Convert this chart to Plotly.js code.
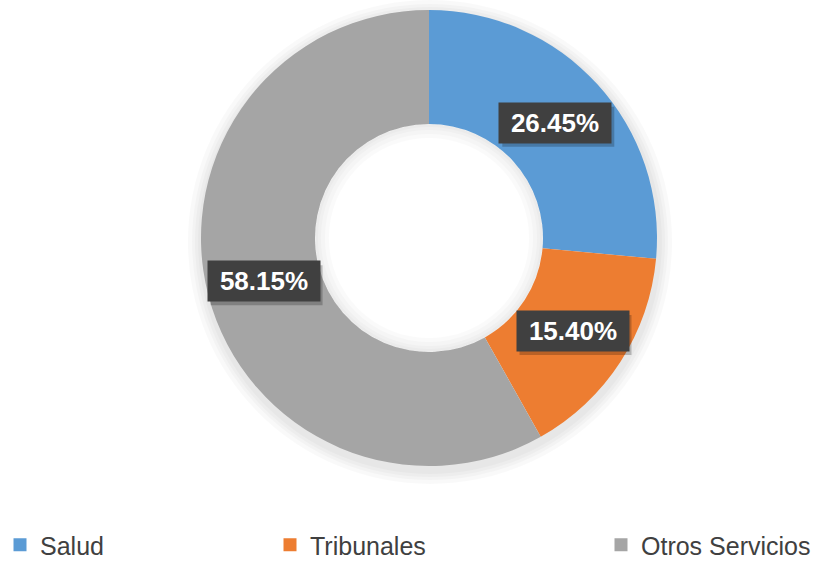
<!DOCTYPE html>
<html>
<head>
<meta charset="utf-8">
<script src="https://cdn.plot.ly/plotly-3.0.1.min.js"></script>
<style>
  html, body { margin: 0; padding: 0; background: #fff; }
  #chart { width: 821px; height: 561px; }
</style>
</head>
<body>
<div id="chart"></div>
<script>
const categories = ["Salud", "Tribunales", "Otros Servicios"];
const shares = [26.45, 15.40, 58.15];
const sliceColors = ["#5B9BD5", "#ED7D31", "#A5A5A5"];

const W = 821, H = 561;
// donut geometry in pixels
const cx = 429, cy = 238, R = 228;
const hole = 0.5;
const rIn = R * hole;
const FONT = "Arial, Liberation Sans, sans-serif";

function domainFor(x, y, r) {
    return {
        x: [(x - r) / W, (x + r) / W],
        y: [(H - y - r) / H, (H - y + r) / H]
    };
}

function ring(x, y, r, h, color, name) {
    return {
        type: "pie",
        labels: [name],
        values: [1],
        hole: h,
        sort: false,
        textinfo: "none",
        hoverinfo: "skip",
        showlegend: false,
        domain: domainFor(x, y, r),
        marker: { colors: [color], line: { width: 0 } }
    };
}

const traces = [];

// soft outer shadow
[14, 10, 7, 4].forEach((d, i) => {
    const r = R + d;
    traces.push(ring(cx + 1, cy + 4, r, (R - 10) / r, "rgba(0,0,0,0.022)", "so" + i));
});

// the donut
traces.push({
    type: "pie",
    labels: categories,
    values: shares,
    hole: hole,
    sort: false,
    direction: "clockwise",
    rotation: 0,
    textinfo: "none",
    hoverinfo: "label+percent",
    showlegend: false,
    domain: domainFor(cx, cy, R),
    marker: { colors: sliceColors, line: { width: 0 } }
});

// soft inner shadow in the hole
[3, 6, 10, 14].forEach((d, i) => {
    traces.push(ring(cx, cy, rIn, (rIn - d) / rIn, "rgba(0,0,0,0.02)", "si" + i));
});

// legend entries, one legend per item so they can be spread like the original
const legendX = [-7, 270, 601];
const legendKeys = ["legend", "legend2", "legend3"];
categories.forEach((c, i) => {
    traces.push({
        type: "scatter",
        mode: "markers",
        x: [null], y: [null],
        name: c,
        legend: legendKeys[i],
        marker: { symbol: "square", size: 13, color: sliceColors[i] },
        hoverinfo: "skip"
    });
});

// label boxes at the middle of each ring segment
const midR = (R + rIn) / 2;
const total = shares.reduce((a, b) => a + b, 0);
const annotations = [];
const shapes = [];
let acc = 0;
shares.forEach(v => {
    const mid = (acc + v / 2) / total * 2 * Math.PI;
    acc += v;
    const px = cx + Math.sin(mid) * midR;
    const py = cy - Math.cos(mid) * midR;
    // box shadow
    shapes.push({
        type: "rect", layer: "above",
        xref: "paper", yref: "paper",
        xsizemode: "pixel", ysizemode: "pixel",
        xanchor: px / W, yanchor: (H - py) / H,
        x0: -53, x1: 59, y0: -24, y1: 16,
        fillcolor: "rgba(0,0,0,0.22)",
        line: { width: 0 }
    });
    annotations.push({
        xref: "paper", yref: "paper",
        x: px / W, y: (H - py) / H,
        xanchor: "center", yanchor: "middle",
        text: v.toFixed(2) + "%",
        showarrow: false,
        width: 110, height: 38,
        borderpad: 1,
        font: { family: FONT, size: 26, color: "#ffffff", weight: "bold" },
        bgcolor: "#404040"
    });
});

const legendBase = {
    orientation: "h",
    xref: "container", yref: "container",
    xanchor: "left", yanchor: "middle",
    y: 16 / H,
    bgcolor: "rgba(0,0,0,0)",
    font: { family: FONT, size: 25, color: "#404040" }
};

const layout = {
    width: W, height: H,
    margin: { t: 0, b: 0, l: 0, r: 0, autoexpand: false },
    paper_bgcolor: "#ffffff",
    plot_bgcolor: "rgba(0,0,0,0)",
    showlegend: true,
    xaxis: { visible: false },
    yaxis: { visible: false },
    legend: Object.assign({}, legendBase, { x: legendX[0] / W }),
    legend2: Object.assign({}, legendBase, { x: legendX[1] / W }),
    legend3: Object.assign({}, legendBase, { x: legendX[2] / W }),
    shapes: shapes,
    annotations: annotations
};

Plotly.newPlot("chart", traces, layout, { displayModeBar: false, staticPlot: true });
</script>
</body>
</html>
